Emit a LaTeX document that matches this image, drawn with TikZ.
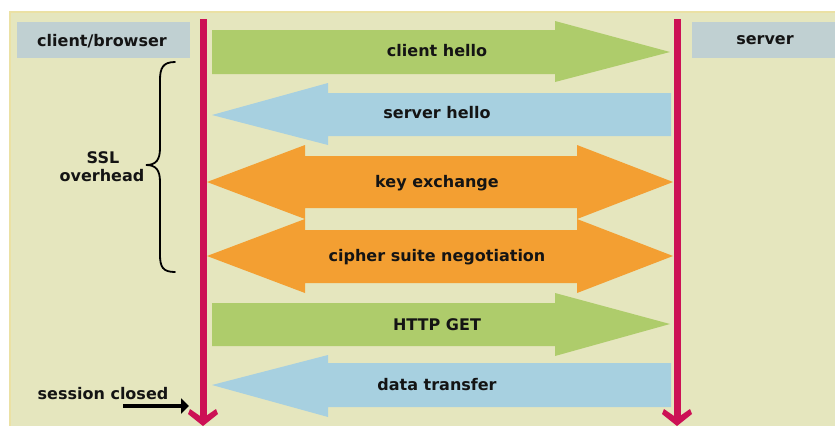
\documentclass[tikz,border=0pt]{standalone}
\usepackage{fontspec}
\setmainfont{DejaVu Sans}
\usetikzlibrary{arrows.meta}
\definecolor{panelbg}{HTML}{E5E6BE}
\definecolor{paneledge}{HTML}{EBE1A4}
\definecolor{rolebox}{HTML}{C0D0D2}
\definecolor{msggreen}{HTML}{AECC6B}
\definecolor{msgblue}{HTML}{A7D0E0}
\definecolor{msgorange}{HTML}{F39F32}
\definecolor{lifeline}{HTML}{CC1155}
\tikzset{
  lbl/.style={font=\fontsize{16}{19}\selectfont\bfseries, text=black!92, inner sep=0pt, anchor=base},
  lifeln/.style={draw=lifeline, line width=7pt},
  greenmsg/.style={fill=msggreen},
  bluemsg/.style={fill=msgblue},
  orangemsg/.style={fill=msgorange},
}
% chevron head of a lifeline, drawn from its tip
\newcommand\lifehead[1]{%
  \fill[lifeline] (#1) -- ++(-15,-12) -- ++(2,-5) -- ++(13,9) -- ++(13,-9) -- ++(2,5) -- cycle;}
\begin{document}
\begin{tikzpicture}[x=1pt,y=-1pt]
\useasboundingbox (0,0) rectangle (835,426);
\fill[white] (0,0) rectangle (835,426);
% panel
\fill[panelbg] (10,12) rectangle (835,426);
\draw[paneledge, line width=1.2pt] (10,426) -- (10,12) -- (835,12);

% role boxes
\fill[rolebox] (17,22) rectangle (190,58);
\fill[rolebox] (692,22) rectangle (835,58);
\node[lbl] (client) at (102,46) {client/browser};
\node[lbl] (server) at (765,44) {server};

% messages
\fill[greenmsg] (212,30) -- (555,30) -- (555,21) -- (670,52) -- (555,82) -- (555,74) -- (212,74) -- cycle;
\node[lbl] (hello1) at (437,56) {client hello};

\fill[bluemsg] (671,93) -- (328,93) -- (328,83) -- (212,115) -- (328,145) -- (328,136) -- (671,136) -- cycle;
\node[lbl] (hello2) at (437,118) {server hello};

\fill[orangemsg] (207,182) -- (305,145) -- (305,156) -- (577,156) -- (577,145) -- (673,182)
  -- (577,219) -- (577,208) -- (305,208) -- (305,219) -- cycle;
\node[lbl] (keyx) at (437,187) {key exchange};

\fill[orangemsg] (207,256) -- (305,219) -- (305,230) -- (577,230) -- (577,219) -- (673,256)
  -- (577,293) -- (577,283) -- (305,283) -- (305,293) -- cycle;
\node[lbl] (cipher) at (437,261) {cipher suite negotiation};

\fill[greenmsg] (212,303) -- (555,303) -- (555,293) -- (670,324) -- (555,356) -- (555,346) -- (212,346) -- cycle;
\node[lbl] (get) at (437,330) {HTTP GET};

\fill[bluemsg] (671,363) -- (328,363) -- (328,355) -- (212,385) -- (328,417) -- (328,407) -- (671,407) -- cycle;
\node[lbl] (data) at (437,390) {data transfer};

% lifelines
\coordinate (cTop) at (203,19);
\coordinate (cJoin) at (203,419);
\coordinate (cEnd) at (203,426);
\coordinate (sTop) at (677,19);
\coordinate (sJoin) at (677,419);
\coordinate (sEnd) at (677,426);
\draw[lifeln] (cTop) -- (cJoin);
\draw[lifeln] (sTop) -- (sJoin);
\lifehead{cEnd}
\lifehead{sEnd}

% SSL overhead brace
\draw[black, line width=1.8pt, line cap=round]
  (175,62) .. controls (163,62) and (160,68) .. (160,80) -- (160,148)
  .. controls (160,160) and (156,165) .. (146,165)
  .. controls (156,165) and (160,170) .. (160,182) -- (160,255)
  .. controls (160,267) and (163,272) .. (175,272);
\node[lbl] (ssl) at (103,163) {SSL};
\node[lbl] (ovh) at (102,181) {overhead};

% session closed marker
\node[lbl] (closed) at (103,399) {session closed};
\coordinate (closeFrom) at (123,406);
\coordinate (closeTo) at (189,406);
\draw[black, line width=4pt, -{Triangle[length=8pt,width=15pt]}] (closeFrom) -- (closeTo);
\end{tikzpicture}
\end{document}
